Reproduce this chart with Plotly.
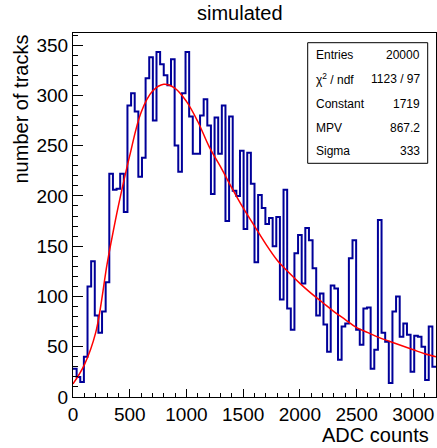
import numpy as np
import plotly.graph_objects as go

# ---- data ----
counts = [28, 20, 15, 40, 110, 135, 81, 64, 85, 114,
          222, 206, 207, 222, 184, 290, 302, 284, 219, 238,
          317, 338, 275, 343, 331, 320, 310, 336, 250, 224,
          302, 343, 279, 242, 242, 280, 296, 270, 202, 278,
          242, 290, 175, 279, 205, 200, 245, 167, 243, 212,
          134, 201, 188, 172, 178, 150, 179, 97, 206, 88,
          67, 143, 161, 113, 168, 156, 128, 81, 103, 72,
          45, 111, 108, 37, 70, 73, 138, 156, 67, 52,
          88, 89, 28, 47, 176, 64, 55, 14, 85, 100,
          60, 73, 62, 25, 61, 60, 50, 17, 70, 30]
bin_low = 0
bin_high = 3200

fit_x = [0, 100, 200, 300, 338, 400, 500, 600, 700, 800, 900, 1000, 1100,
         1200, 1300, 1400, 1500, 1600, 1700, 1800, 1900, 2000, 2100, 2200,
         2300, 2400, 2500, 2600, 2700, 2800, 2900, 3000, 3100, 3200]
fit_y = [13, 32, 64, 132, 155, 190, 240, 283, 304, 311, 307, 294, 274,
         249, 229, 208, 188, 170, 152, 136, 124, 113, 103, 94,
         85, 77, 69, 64, 59, 55, 51, 47, 43, 40]

stats_labels = ["Entries", "\u03c7<sup>2</sup> / ndf", "Constant", "MPV", "Sigma"]
stats_values = ["20000", "1123 / 97", "1719", "867.2", "333"]

x_tick_vals = [0, 500, 1000, 1500, 2000, 2500, 3000]
y_tick_vals = [0, 50, 100, 150, 200, 250, 300, 350]

title_text = "simulated"
x_title = "ADC counts"
y_title = "number of tracks"

# ---- figure ----
W, H = 437, 448
ml, mr, mt, mb = 73, 1, 33, 51
pw, ph = W - ml - mr, H - mt - mb

def px_x(p):
    return (p - ml) / pw

def px_y(p):
    return 1 - (p - mt) / ph

n = len(counts)
edges = np.linspace(bin_low, bin_high, n + 1)
step_y = list(counts) + [counts[-1]]

font_family = "Liberation Sans, Arial, sans-serif"
big = 19

fig = go.Figure()
fig.add_trace(go.Scatter(x=edges, y=step_y, mode="lines",
                         line=dict(shape="hv", color="#000099", width=2),
                         hoverinfo="skip", showlegend=False))
fig.add_trace(go.Scatter(x=fit_x, y=fit_y, mode="lines",
                         line=dict(shape="spline", color="#ff0000", width=1.5),
                         hoverinfo="skip", showlegend=False))

axis_common = dict(showgrid=False, zeroline=False, showline=True, linecolor="black",
                   linewidth=1, mirror=True, ticks="inside", tickcolor="black",
                   tickwidth=1, automargin=False,
                   tickfont=dict(family=font_family, size=big, color="black"))

fig.update_xaxes(range=[bin_low, bin_high], tickmode="array", tickvals=x_tick_vals,
                 ticktext=[str(v) for v in x_tick_vals], ticklen=8,
                 minor=dict(ticks="inside", ticklen=4, tickmode="linear", tick0=0, dtick=100,
                            tickcolor="black", showgrid=False),
                 **axis_common)
fig.update_yaxes(range=[0, 362], tickmode="array", tickvals=y_tick_vals,
                 ticktext=[str(v) for v in y_tick_vals], ticklen=10,
                 minor=dict(ticks="inside", ticklen=5, tickmode="linear", tick0=0, dtick=10,
                            tickcolor="black", showgrid=False),
                 **axis_common)

annotations = [
    dict(text=title_text, xref="paper", yref="paper", x=px_x(240), y=px_y(13),
         xanchor="center", yanchor="middle", showarrow=False,
         font=dict(family=font_family, size=20, color="black")),
    dict(text=x_title, xref="paper", yref="paper", x=px_x(431), y=px_y(435),
         xanchor="right", yanchor="middle", showarrow=False,
         font=dict(family=font_family, size=20, color="black")),
    dict(text=y_title, xref="paper", yref="paper", x=px_x(20), y=px_y(33),
         xanchor="center", yanchor="top", textangle=-90, showarrow=False,
         font=dict(family=font_family, size=20, color="black")),
]

row_y = [55, 79.3, 104, 128.3, 150.7]
for lab, val, ry in zip(stats_labels, stats_values, row_y):
    annotations.append(dict(text=lab, xref="paper", yref="paper", x=px_x(313.5), y=px_y(ry),
                            xanchor="left", yanchor="middle", showarrow=False,
                            font=dict(family=font_family, size=12, color="black")))
    annotations.append(dict(text=val, xref="paper", yref="paper", x=px_x(421.5), y=px_y(ry),
                            xanchor="right", yanchor="middle", showarrow=False,
                            font=dict(family=font_family, size=12, color="black")))

shapes = [dict(type="rect", xref="paper", yref="paper",
               x0=px_x(307.7), x1=px_x(427.7), y0=px_y(163.3), y1=px_y(42.7),
               line=dict(color="black", width=1), fillcolor="white", layer="above")]

fig.update_layout(width=W, height=H, margin=dict(l=ml, r=mr, t=mt, b=mb, pad=0, autoexpand=False),
                  font=dict(family=font_family, color="black"),
                  paper_bgcolor="white", plot_bgcolor="white",
                  annotations=annotations, shapes=shapes, showlegend=False)

fig.write_html("out.html", config={"displayModeBar": False},
               post_script="document.body.style.margin='0px';document.body.style.overflow='hidden';")
